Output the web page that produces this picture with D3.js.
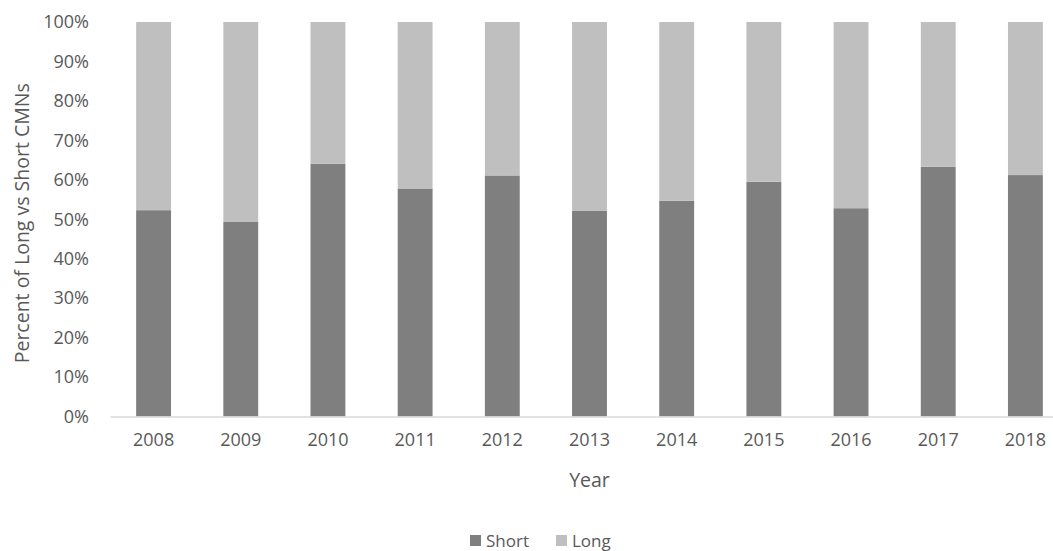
<!DOCTYPE html>
<html>
<head>
<meta charset="utf-8">
<script src="https://cdn.jsdelivr.net/npm/d3@7"></script>
<style>
  html, body { margin: 0; padding: 0; background: #fff; }
  svg { display: block; }
  text { font-family: "Open Sans", "Noto Sans", sans-serif; fill: #595959; }
</style>
</head>
<body>
<svg id="chart" width="1053" height="551"></svg>
<script>
// Share of short vs long CMNs per year (fractions of 1)
const years = ["2008", "2009", "2010", "2011", "2012", "2013", "2014", "2015", "2016", "2017", "2018"];
const shortShare = [0.523, 0.493, 0.641, 0.578, 0.611, 0.522, 0.547, 0.595, 0.528, 0.633, 0.612];
const longShare = shortShare.map(v => 1 - v);
const seriesNames = ["Short", "Long"];
const seriesColors = ["#7f7f7f", "#bfbfbf"];
const yTicks = [0, 0.1, 0.2, 0.3, 0.4, 0.5, 0.6, 0.7, 0.8, 0.9, 1.0];

const svg = d3.select("#chart");
const plot = { left: 110, right: 1069, top: 22, bottom: 416.5 };

const x = d3.scaleBand().domain(years).range([plot.left, plot.right]).paddingInner(0.6).paddingOuter(0.3);
const y = d3.scaleLinear().domain([0, 1]).range([plot.bottom, plot.top]);

const rows = years.map((yr, i) => ({ year: yr, Short: shortShare[i], Long: longShare[i] }));
const stacked = d3.stack().keys(seriesNames)(rows);

// Stacked bars
svg.append("g").selectAll("g")
  .data(stacked)
  .join("g")
  .attr("fill", (d, i) => seriesColors[i])
  .selectAll("rect")
  .data(d => d)
  .join("rect")
  .attr("x", d => x(d.data.year))
  .attr("width", x.bandwidth())
  .attr("y", d => y(d[1]))
  .attr("height", d => y(d[0]) - y(d[1]));

// Y axis labels
const yAxis = svg.append("g")
  .attr("transform", `translate(${plot.left},0)`)
  .call(d3.axisLeft(y).tickValues(yTicks).tickFormat(d3.format(".0%")).tickSize(0).tickPadding(21));
yAxis.select(".domain").remove();
yAxis.selectAll("text").style("font-size", "18px").attr("fill", "#595959");

// X axis with baseline
const xAxis = svg.append("g")
  .attr("transform", `translate(0,${plot.bottom})`)
  .call(d3.axisBottom(x).tickSize(0).tickPadding(17));
xAxis.select(".domain").attr("stroke", "#d9d9d9").attr("stroke-width", 1.5);
xAxis.selectAll("text").style("font-size", "18px").attr("fill", "#595959");

// Axis titles
svg.append("text")
  .attr("x", (plot.left + plot.right) / 2)
  .attr("y", 487)
  .attr("text-anchor", "middle")
  .style("font-size", "19.5px")
  .text("Year");

svg.append("text")
  .attr("transform", `translate(29,${(plot.top + plot.bottom) / 2 + 4}) rotate(-90)`)
  .attr("text-anchor", "middle")
  .style("font-size", "19.5px")
  .text("Percent of Long vs Short CMNs");

// Legend
const legendItems = [
  { name: "Short", color: seriesColors[0], x: 470 },
  { name: "Long", color: seriesColors[1], x: 556 }
];
const lg = svg.append("g").selectAll("g").data(legendItems).join("g")
  .attr("transform", d => `translate(${d.x},535)`);
lg.append("rect").attr("width", 11).attr("height", 11).attr("fill", d => d.color);
lg.append("text").attr("x", 16).attr("y", 11.5).style("font-size", "17px").text(d => d.name);
</script>
</body>
</html>
